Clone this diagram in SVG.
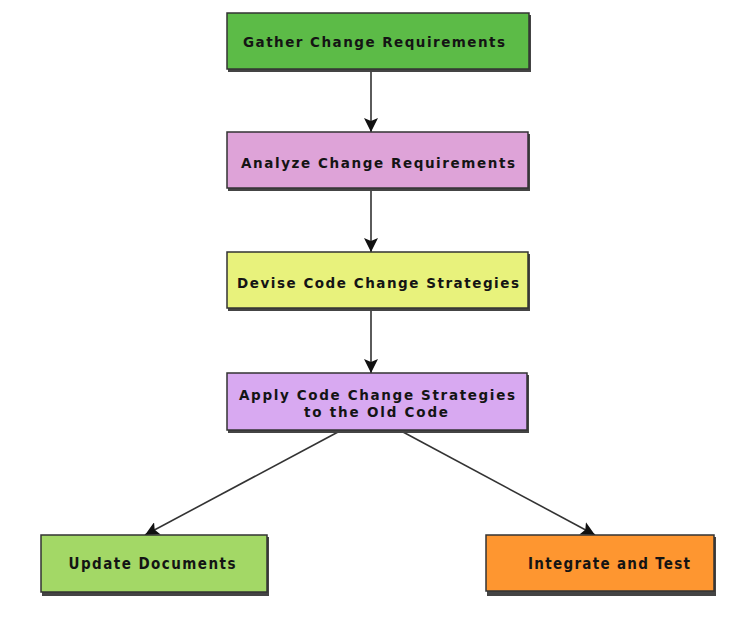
<svg xmlns="http://www.w3.org/2000/svg" width="732" height="624" viewBox="0 0 732 624">
<style>
.shadow{fill:#444444}
.box{stroke:#333333;stroke-width:1.5}
.lbl{font-family:"DejaVu Sans","Liberation Sans",sans-serif;font-weight:bold;font-size:13.5px;fill:#141414;text-anchor:middle}
.cond{font-family:"DejaVu Sans Condensed","DejaVu Sans","Liberation Sans",sans-serif;font-weight:bold;font-size:15px;fill:#141414;text-anchor:middle}
.edge{stroke:#333333;stroke-width:1.6;fill:none;marker-end:url(#ah)}
</style>
<defs>
<marker id="ah" markerWidth="14" markerHeight="14" viewBox="0 0 14 14" refX="14" refY="7" orient="auto" markerUnits="userSpaceOnUse">
<path d="M0,0 L14,7 L0,14 L3,7 Z" fill="#111111"/>
</marker>
</defs>
<rect width="732" height="624" fill="#ffffff"/>
<g id="connectors">
<line class="edge" x1="371" y1="70" x2="371" y2="132"/>
<line class="edge" x1="371" y1="190" x2="371" y2="252"/>
<line class="edge" x1="371" y1="310" x2="371" y2="373"/>
<line class="edge" x1="338" y1="432" x2="145" y2="535"/>
<line class="edge" x1="403" y1="432" x2="595" y2="535"/>
</g>
<g id="gather">
<rect class="shadow" x="228" y="15" width="303" height="57"/>
<rect class="box" x="227" y="13" width="302" height="56" fill="#5cbb47"/>
<text class="lbl" x="374" y="47" textLength="262" lengthAdjust="spacing">Gather Change Requirements</text>
</g>
<g id="analyze">
<rect class="shadow" x="228" y="134" width="302" height="57"/>
<rect class="box" x="227" y="132" width="301" height="56" fill="#dea3d8"/>
<text class="lbl" x="378" y="168" textLength="274" lengthAdjust="spacing">Analyze Change Requirements</text>
</g>
<g id="devise">
<rect class="shadow" x="228" y="254" width="302" height="57"/>
<rect class="box" x="227" y="252" width="301" height="56" fill="#e8f27c"/>
<text class="lbl" x="378" y="288" textLength="282" lengthAdjust="spacing">Devise Code Change Strategies</text>
</g>
<g id="apply">
<rect class="shadow" x="228" y="375" width="301" height="58"/>
<rect class="box" x="227" y="373" width="300" height="57" fill="#d8a9f1"/>
<text class="lbl" x="377" y="400" textLength="276" lengthAdjust="spacing">Apply Code Change Strategies</text>
<text class="lbl" x="376" y="417" textLength="144" lengthAdjust="spacing">to the Old Code</text>
</g>
<g id="update">
<rect class="shadow" x="42" y="537" width="227" height="59"/>
<rect class="box" x="41" y="535" width="226" height="57" fill="#a3d866"/>
<text class="cond" x="152" y="569" textLength="167" lengthAdjust="spacing">Update Documents</text>
</g>
<g id="integrate">
<rect class="shadow" x="487" y="537" width="229" height="59"/>
<rect class="box" x="486" y="535" width="228" height="56" fill="#fe9630"/>
<text class="cond" x="609" y="569" textLength="162" lengthAdjust="spacing">Integrate and Test</text>
</g>
</svg>
